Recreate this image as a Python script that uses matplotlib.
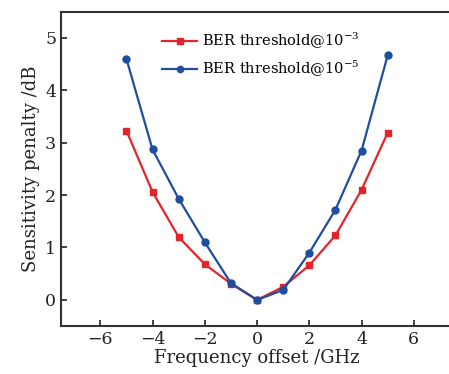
import numpy as np
import matplotlib
matplotlib.use("Agg")
import matplotlib.pyplot as plt

plt.rcParams['font.family'] = ['DejaVu Serif']
plt.rcParams['mathtext.fontset'] = 'dejavuserif'

# data
freq = [-5, -4, -3, -2, -1, 0, 1, 2, 3, 4, 5]
ber3 = [3.23, 2.06, 1.20, 0.68, 0.31, 0.0, 0.25, 0.66, 1.23, 2.10, 3.19]
ber5 = [4.60, 2.87, 1.93, 1.10, 0.32, 0.0, 0.19, 0.90, 1.72, 2.85, 4.67]
xticks = [-6, -4, -2, 0, 2, 4, 6]
yticks = [0, 1, 2, 3, 4, 5]

fig = plt.figure(figsize=(4.49, 3.74), dpi=100)
ax = fig.add_axes([0.136, 0.128, 0.873, 0.841])

ax.plot(freq, ber3, color='#e3242b', marker='s', markersize=5, lw=1.6,
        label=r'BER threshold@10$^{-3}$')
ax.plot(freq, ber5, color='#1f4e9e', marker='o', markersize=5, lw=1.6,
        label=r'BER threshold@10$^{-5}$')

ax.set_xlim(-7.5, 7.5)
ax.set_ylim(-0.5, 5.5)
ax.set_xticks(xticks)
ax.set_yticks(yticks)
ax.tick_params(direction='in', length=4, width=1.2, labelsize=12.5, colors='#222222')
for s in ax.spines.values():
    s.set_linewidth(1.5)
    s.set_color('#333333')

ax.set_xlabel('Frequency offset /GHz', fontsize=13, labelpad=1, color='#222222')
ax.set_ylabel('Sensitivity penalty /dB', fontsize=13, labelpad=4, color='#222222')

ax.legend(loc='upper left', bbox_to_anchor=(0.225, 0.98), frameon=False, fontsize=10.5,
          markerscale=0.9, handlelength=2.4, handletextpad=0.3, labelspacing=0.55,
          numpoints=1)

plt.savefig('out.png', dpi=100)
